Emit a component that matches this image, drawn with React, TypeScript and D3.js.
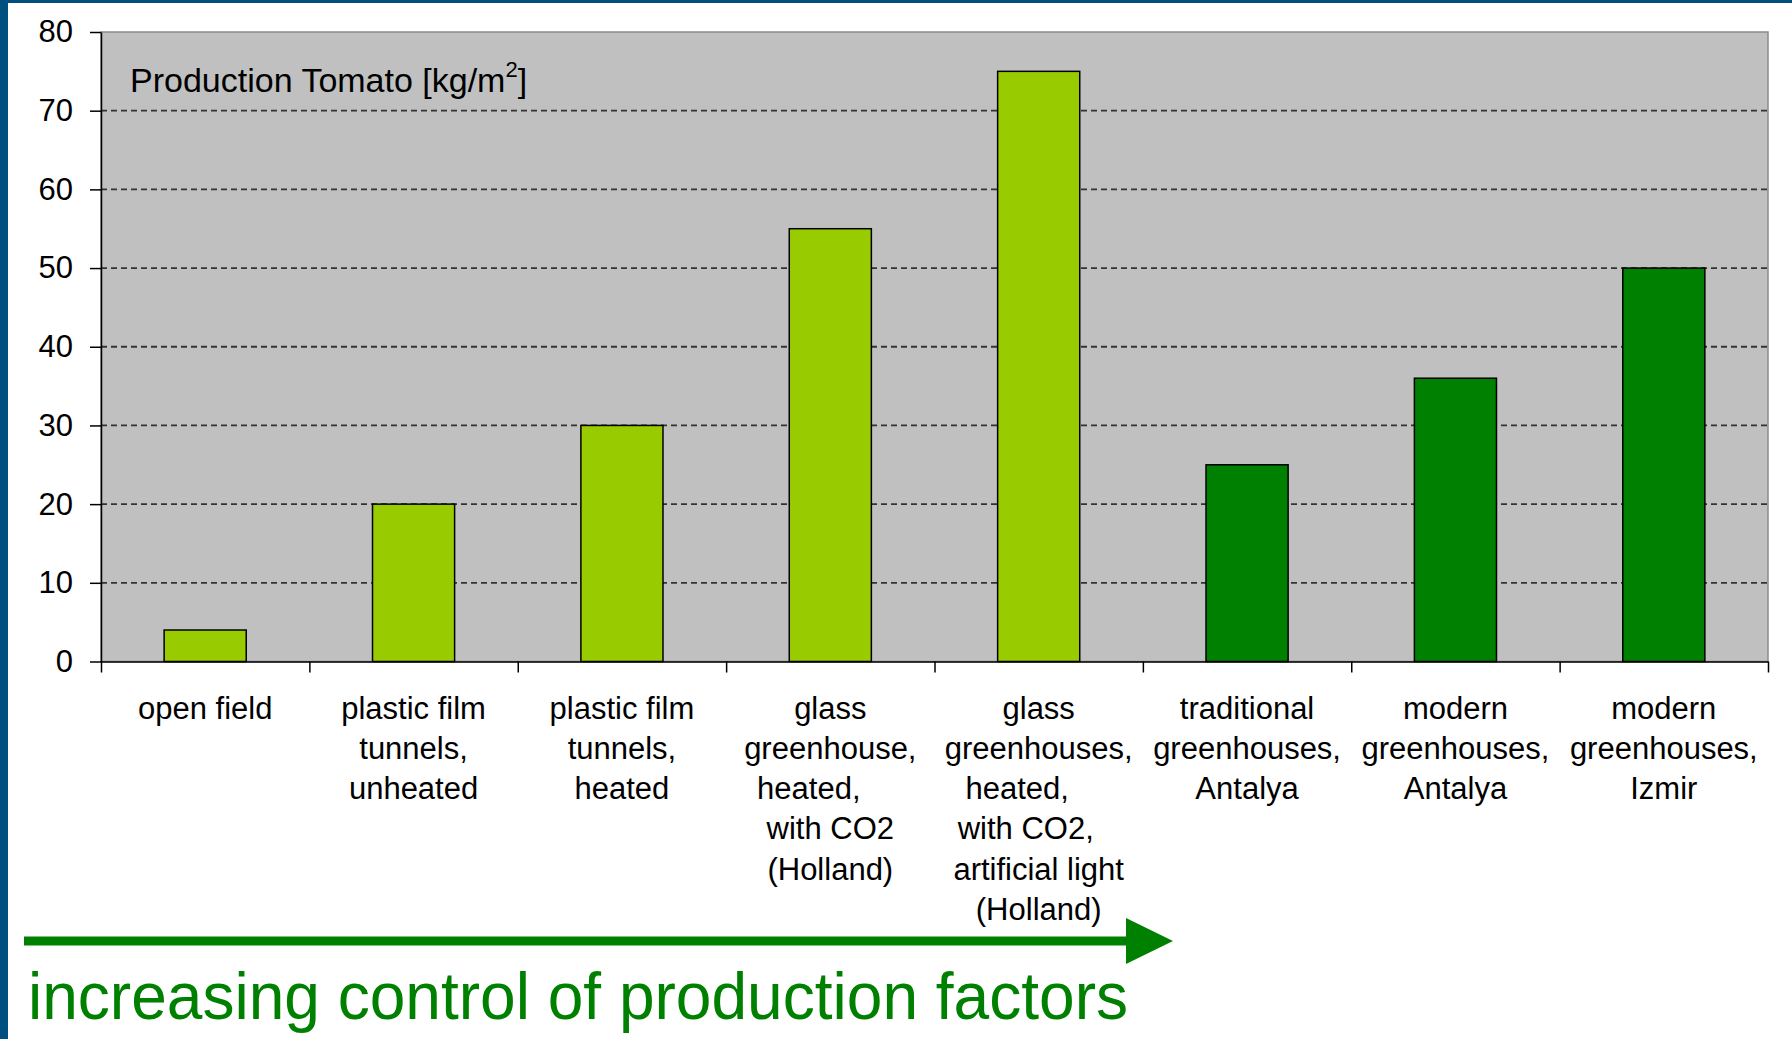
import React, { useRef, useEffect } from 'react';
import * as d3 from 'd3';

// category labels, one entry per line (trailing spaces kept as in the original cells)
const categoryLines: string[][] = [
  ['open field'],
  ['plastic film', 'tunnels,', 'unheated'],
  ['plastic film', 'tunnels,', 'heated'],
  ['glass', 'greenhouse,', 'heated,\u00a0\u00a0\u00a0\u00a0\u00a0', 'with CO2', '(Holland)'],
  ['glass', 'greenhouses,', 'heated,\u00a0\u00a0\u00a0\u00a0\u00a0', 'with CO2,\u00a0\u00a0\u00a0', 'artificial light', '(Holland)'],
  ['traditional', 'greenhouses,', 'Antalya'],
  ['modern', 'greenhouses,', 'Antalya'],
  ['modern', 'greenhouses,', 'Izmir'],
];
const production = [4, 20, 30, 55, 75, 25, 36, 50];
const region = ['ref', 'ref', 'ref', 'ref', 'ref', 'turkey', 'turkey', 'turkey'];
const yTicks = [0, 10, 20, 30, 40, 50, 60, 70, 80];

const W = 1792;
const H = 1039;
const FONT = '"Liberation Sans", Arial, sans-serif';

function TomatoChart() {
  const svgRef = useRef<SVGSVGElement>(null);

  useEffect(() => {
    const svg = d3.select(svgRef.current);
    svg.selectAll('*').remove();

    const margin = { top: 32, right: 24, bottom: 377.5, left: 101 };
    const n = production.length;

    const x = d3.scaleBand<number>()
      .domain(d3.range(n))
      .range([margin.left, W - margin.right])
      .paddingInner(0.606)
      .paddingOuter(0.303);

    // category boundaries for the tick marks
    const xEdge = d3.scaleLinear().domain([0, n]).range([margin.left, W - margin.right]);

    const y = d3.scaleLinear().domain([0, 80]).range([H - margin.bottom, margin.top]);

    const color = d3.scaleOrdinal<string, string>()
      .domain(['ref', 'turkey'])
      .range(['#99cc00', '#008000']);

    // page frame
    svg.append('rect').attr('width', W).attr('height', H).attr('fill', '#ffffff');
    svg.append('rect').attr('x', 0).attr('y', 0).attr('width', 8).attr('height', H).attr('fill', '#00507f');
    svg.append('rect').attr('x', 0).attr('y', 0).attr('width', W).attr('height', 3).attr('fill', '#00507f');

    // plot background
    svg.append('rect')
      .attr('x', margin.left)
      .attr('y', margin.top)
      .attr('width', W - margin.right - margin.left)
      .attr('height', y(0) - margin.top)
      .attr('fill', '#c0c0c0')
      .attr('stroke', '#8c8c8c')
      .attr('stroke-width', 1.5);

    // gridlines
    svg.append('g')
      .selectAll('line')
      .data(yTicks.filter(t => t > 0 && t < 80))
      .join('line')
      .attr('x1', margin.left)
      .attr('x2', W - margin.right)
      .attr('y1', d => y(d))
      .attr('y2', d => y(d))
      .attr('stroke', '#333')
      .attr('stroke-width', 1.8)
      .attr('stroke-dasharray', '6,4');

    // bars
    svg.append('g')
      .selectAll('rect')
      .data(production)
      .join('rect')
      .attr('x', (d, i) => x(i)!)
      .attr('y', d => y(d))
      .attr('width', x.bandwidth())
      .attr('height', d => y(0) - y(d))
      .attr('fill', (d, i) => color(region[i]))
      .attr('stroke', '#000')
      .attr('stroke-width', 1.5);

    // y axis
    const yAxis = svg.append('g')
      .attr('transform', `translate(${margin.left},0)`)
      .call(d3.axisLeft(y).tickValues(yTicks).tickSize(11).tickPadding(17).tickSizeOuter(0));
    yAxis.select('.domain').attr('stroke', '#000').attr('stroke-width', 1.5);
    yAxis.selectAll('.tick line').attr('stroke', '#000').attr('stroke-width', 1.5);
    yAxis.selectAll('.tick text')
      .attr('font-family', FONT)
      .attr('font-size', 31)
      .attr('fill', '#000');

    // x axis
    const xAxis = svg.append('g')
      .attr('transform', `translate(0,${y(0)})`)
      .call(d3.axisBottom(xEdge).tickValues(d3.range(n + 1)).tickSize(11).tickFormat(() => '').tickSizeOuter(0));
    xAxis.select('.domain').attr('stroke', '#000').attr('stroke-width', 1.5);
    xAxis.selectAll('.tick line').attr('stroke', '#000').attr('stroke-width', 1.5);

    // category labels
    const labels = svg.append('g')
      .attr('font-family', FONT)
      .attr('font-size', 31)
      .attr('fill', '#000')
      .attr('text-anchor', 'middle');
    categoryLines.forEach((lines, i) => {
      const cx = x(i)! + x.bandwidth() / 2;
      const t = labels.append('text').attr('x', cx).attr('y', y(0) + 57);
      lines.forEach((line, j) => {
        t.append('tspan').attr('x', cx).attr('dy', j === 0 ? 0 : 40.3).text(line);
      });
    });

    // chart title inside plot
    const title = svg.append('text')
      .attr('x', 130)
      .attr('y', 92)
      .attr('font-family', FONT)
      .attr('font-size', 34)
      .attr('fill', '#000');
    title.append('tspan').text('Production Tomato [kg/m');
    title.append('tspan').attr('dy', -15).attr('font-size', 22).text('2');
    title.append('tspan').attr('dy', 15).text(']');

    // arrow annotation
    svg.append('rect').attr('x', 24).attr('y', 936.5).attr('width', 1104).attr('height', 9).attr('fill', '#008000');
    svg.append('path').attr('d', 'M1126,918 L1173,941 L1126,964 Z').attr('fill', '#008000');

    svg.append('text')
      .attr('x', 28)
      .attr('y', 1019)
      .attr('font-family', FONT)
      .attr('font-size', 66)
      .attr('fill', '#008000')
      .attr('textLength', 1100)
      .attr('lengthAdjust', 'spacingAndGlyphs')
      .text('increasing control of production factors');
  }, []);

  return (
    <svg
      ref={svgRef}
      width={W}
      height={H}
      style={{ position: 'absolute', left: 0, top: 0, display: 'block' }}
    />
  );
}

export default function App() {
  return <TomatoChart />;
}
